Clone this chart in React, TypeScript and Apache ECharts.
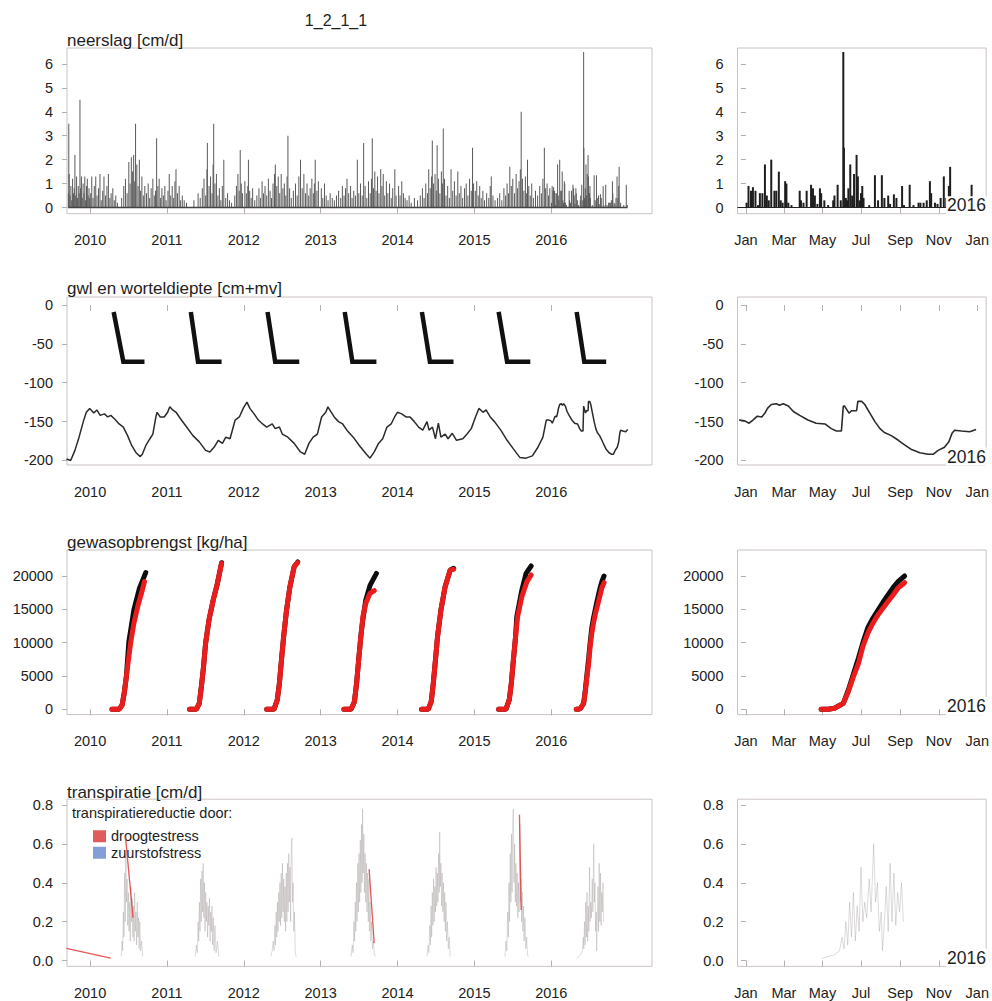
import React, { useEffect, useRef } from "react";
import * as echarts from "echarts";

// ---------- tick values ----------
const yearTicks = [2010, 2011, 2012, 2013, 2014, 2015, 2016];
const monthTickDays = [0, 60, 121, 182, 244, 305, 366];
const monthTickLabels = ["Jan", "Mar", "May", "Jul", "Sep", "Nov", "Jan"];
const rainTicks = [0, 1, 2, 3, 4, 5, 6];
const gwlTicks = [-200, -150, -100, -50, 0];
const yieldTicks = [0, 5000, 10000, 15000, 20000];
const transTicks = [0, 0.2, 0.4, 0.6, 0.8];

// ---------- neerslag (rain), [day of year, cm/d] ----------
const rain2009 = [[262,0.6],[264,3.5],[266,1.4],[270,0.5],[274,0.9],[278,0.3],[282,1.2],[286,0.6],[290,0.8],[293,2.2],[297,0.5],[301,1.3],[305,0.4],[309,0.9],[313,0.6],[317,4.5],[320,0.8],[324,1.3],[328,0.4],[332,1.0],[336,0.6],[340,1.3],[344,0.3],[348,0.9],[352,1.2],[356,0.5],[360,0.8],[363,0.4]];
const rain2010 = [[3,0.6],[8,1.3],[14,0.4],[20,0.9],[27,1.3],[33,0.5],[40,0.8],[47,1.4],[53,0.3],[60,0.7],[66,1.3],[73,0.5],[80,0.9],[87,1.4],[94,0.4],[100,0.6],[108,0.8],[115,0.3],[122,0.5],[130,0.2],[150,0.4],[160,0.9],[168,1.2],[176,0.6],[184,1.9],[190,1.0],[196,2.1],[202,1.5],[207,2.2],[212,1.1],[216,3.5],[222,1.8],[228,0.9],[234,2.0],[240,0.7],[246,1.3],[253,0.5],[260,0.9],[268,0.6],[276,1.0],[283,0.4],[290,0.8],[298,1.2],[305,0.5],[311,0.7],[316,2.9],[322,0.9],[328,1.2],[335,0.4],[341,0.8],[348,0.5],[355,0.9],[361,0.3]];
const rain2011 = [[5,0.7],[11,1.4],[18,0.5],[25,0.9],[32,0.4],[38,1.1],[43,1.6],[50,0.6],[58,0.9],[65,0.3],[73,0.5],[82,0.3],[93,0.2],[128,0.3],[148,0.6],[158,0.4],[168,0.8],[176,1.2],[184,0.5],[190,1.6],[192,2.7],[200,0.9],[207,1.3],[214,0.6],[219,1.8],[222,3.5],[228,1.0],[235,1.4],[242,0.5],[249,0.8],[256,0.3],[263,0.9],[270,2.0],[279,0.4],[288,0.6],[297,0.3],[307,0.2],[322,0.5],[330,0.9],[337,1.4],[343,0.7],[348,2.4],[353,1.0],[359,0.6]];
const rain2012 = [[5,1.1],[12,0.6],[19,0.9],[22,2.0],[28,0.7],[35,0.4],[42,0.8],[52,0.3],[62,0.5],[72,0.8],[79,0.4],[87,1.1],[94,0.6],[101,0.9],[109,0.5],[117,1.2],[125,0.7],[132,0.4],[139,1.0],[146,1.4],[150,1.8],[157,0.9],[164,1.3],[171,0.6],[178,1.4],[186,0.8],[193,1.0],[200,0.5],[206,1.3],[210,3.0],[218,0.8],[226,0.4],[236,0.7],[246,1.0],[254,0.5],[262,1.3],[270,2.0],[278,0.8],[286,1.4],[294,0.6],[301,1.0],[309,0.5],[316,0.8],[324,1.2],[331,0.6],[336,1.0],[340,2.0],[348,0.7],[355,1.1]];
const rain2013 = [[3,0.8],[10,0.4],[18,1.0],[26,0.5],[35,0.3],[45,0.6],[55,0.4],[65,0.3],[75,0.5],[85,0.7],[95,0.4],[103,0.9],[111,0.5],[118,0.8],[125,1.2],[133,0.6],[142,0.9],[149,0.4],[157,0.7],[165,0.5],[174,2.0],[181,0.6],[189,1.0],[197,0.5],[204,2.7],[211,0.9],[219,0.4],[227,1.1],[235,0.6],[241,1.2],[245,2.9],[251,0.8],[257,1.5],[263,0.7],[270,1.3],[277,0.6],[285,1.6],[291,0.9],[297,1.4],[304,0.5],[312,1.1],[319,0.6],[327,1.0],[335,0.4],[342,0.8],[352,1.6],[358,0.5]];
const rain2014 = [[5,0.9],[12,0.5],[20,1.1],[28,0.6],[36,0.4],[45,0.3],[55,0.5],[65,0.2],[80,0.4],[95,0.3],[108,0.5],[118,0.8],[126,0.4],[134,1.0],[142,0.6],[148,1.6],[155,0.8],[161,1.3],[165,2.8],[171,1.0],[178,1.4],[184,0.7],[188,2.6],[194,1.2],[201,0.6],[208,1.5],[213,1.0],[217,3.3],[223,1.2],[230,0.5],[238,0.9],[246,0.4],[254,1.6],[262,0.7],[270,1.1],[278,0.5],[286,1.5],[293,0.6],[301,0.9],[309,0.4],[318,0.8],[326,1.0],[334,0.5],[342,1.2],[350,0.7],[356,2.5],[361,1.0]];
const rain2015 = [[4,0.7],[11,1.1],[18,0.5],[25,0.9],[32,0.4],[40,0.7],[48,0.3],[58,0.6],[68,0.4],[75,0.9],[80,1.3],[88,0.5],[98,0.3],[110,0.4],[120,0.6],[130,0.3],[140,0.8],[148,0.5],[155,1.0],[162,0.6],[168,1.7],[175,0.9],[182,1.2],[190,0.6],[198,1.4],[205,0.8],[212,1.1],[218,1.6],[222,4.0],[228,1.2],[235,0.7],[242,1.3],[248,0.6],[252,2.0],[258,0.9],[265,0.5],[272,1.0],[280,0.4],[290,0.7],[300,0.5],[310,0.9],[318,0.6],[325,1.2],[332,2.5],[338,0.8],[345,1.0],[352,0.5],[358,0.8]];
const rain2016 = [[1,0.2],[4,0.9],[8,0.7],[11,0.85],[15,0.7],[19,0.1],[22,0.6],[26,0.6],[30,1.8],[33,0.5],[36,0.3],[40,2.0],[45,0.7],[48,0.7],[52,1.5],[55,0.3],[58,0.2],[62,1.1],[64,1.0],[67,0.2],[72,0.1],[85,0.7],[87,0.3],[91,0.2],[96,0.7],[103,0.95],[106,0.8],[109,0.5],[113,0.15],[117,0.8],[119,0.6],[124,0.3],[130,0.1],[138,0.3],[140,0.5],[145,0.95],[150,0.3],[154,6.5],[155,2.5],[158,0.4],[160,0.3],[162,0.8],[165,1.8],[168,0.5],[171,1.4],[175,2.2],[177,1.3],[180,0.3],[182,0.6],[184,0.9],[186,0.4],[195,0.1],[204,1.35],[209,0.3],[215,1.35],[219,0.4],[225,0.5],[228,0.15],[234,0.55],[238,0.4],[247,0.9],[250,0.1],[259,0.95],[265,0.1],[273,0.2],[276,0.2],[281,0.2],[286,0.3],[291,1.1],[293,0.6],[299,0.2],[303,0.15],[308,0.4],[313,1.3],[317,0.4],[321,0.9],[323,1.7],[330,0.2],[345,0.1],[357,0.95],[362,0.1]];
const rainYears = [2009, 2010, 2011, 2012, 2013, 2014, 2015, 2016];
const rainPeriod = [2009.715, 2016.99];

// ---------- grondwaterstand (gwl) ----------
const gwlLeft = [[2009.693,-198],[2009.748,-200],[2009.803,-187],[2009.857,-170],[2009.912,-150],[2009.951,-138],[2009.995,-133],[2010.049,-139],[2010.088,-135],[2010.132,-142],[2010.187,-140],[2010.230,-144],[2010.269,-142],[2010.324,-147],[2010.378,-153],[2010.433,-157],[2010.488,-168],[2010.543,-181],[2010.598,-190],[2010.653,-195],[2010.680,-192],[2010.724,-181],[2010.779,-172],[2010.817,-166],[2010.856,-144],[2010.872,-138],[2010.911,-144],[2010.965,-144],[2011.009,-138],[2011.037,-131],[2011.075,-135],[2011.119,-138],[2011.174,-146],[2011.256,-157],[2011.338,-168],[2011.421,-176],[2011.503,-187],[2011.558,-189],[2011.613,-183],[2011.668,-174],[2011.722,-178],[2011.766,-170],[2011.821,-172],[2011.887,-148],[2011.942,-144],[2011.997,-132],[2012.041,-125],[2012.079,-133],[2012.134,-140],[2012.189,-148],[2012.244,-153],[2012.298,-157],[2012.370,-153],[2012.408,-159],[2012.463,-157],[2012.501,-166],[2012.573,-170],[2012.655,-178],[2012.737,-189],[2012.792,-192],[2012.847,-178],[2012.902,-170],[2012.957,-166],[2013.012,-144],[2013.066,-138],[2013.094,-131],[2013.138,-138],[2013.176,-144],[2013.231,-150],[2013.286,-153],[2013.341,-161],[2013.423,-170],[2013.505,-181],[2013.587,-191],[2013.642,-197],[2013.697,-189],[2013.752,-178],[2013.807,-172],[2013.862,-157],[2013.917,-153],[2013.961,-144],[2013.999,-138],[2014.054,-140],[2014.109,-144],[2014.163,-144],[2014.218,-150],[2014.273,-157],[2014.328,-161],[2014.383,-150],[2014.410,-161],[2014.454,-157],[2014.493,-172],[2014.531,-152],[2014.564,-170],[2014.619,-166],[2014.657,-172],[2014.712,-165],[2014.767,-174],[2014.849,-172],[2014.904,-166],[2014.959,-159],[2015.014,-144],[2015.058,-133],[2015.112,-138],[2015.151,-135],[2015.206,-144],[2015.261,-150],[2015.343,-161],[2015.425,-174],[2015.507,-185],[2015.590,-196],[2015.672,-197],[2015.754,-194],[2015.826,-183],[2015.891,-170],[2015.935,-148]];
const gwl2016 = [[-11,-148],[-2,-149],[5,-152],[11,-148],[18,-143],[25,-144],[30,-139],[34,-133],[40,-128],[48,-127],[53,-129],[59,-127],[67,-130],[75,-137],[85,-142],[98,-148],[111,-152],[125,-153],[135,-159],[143,-162],[151,-162],[154,-130],[156,-130],[163,-139],[167,-136],[175,-136],[177,-124],[183,-124],[188,-128],[196,-139],[204,-150],[212,-159],[219,-164],[230,-168],[241,-174],[251,-180],[262,-186],[275,-190],[288,-192],[296,-192],[304,-187],[314,-183],[321,-176],[326,-165],[330,-161],[341,-162],[354,-163],[364,-160]];

// ---------- worteldiepte (root depth) ----------
const rootStart = [2010.307, 2011.311, 2012.309, 2013.313, 2014.317, 2015.315, 2016.330];
const rootFull = [2010.433, 2011.404, 2012.408, 2013.412, 2014.421, 2015.425, 2016.429];
const rootEnd = [2010.708, 2011.711, 2012.721, 2013.725, 2014.728, 2015.727, 2016.714];
const rootDepths = [-9, -73];

// ---------- gewasopbrengst (yield) ----------
const yieldRed = [
  [[2010.285,0],[2010.378,0],[2010.417,650],[2010.444,2400],[2010.472,4900],[2010.499,7400],[2010.527,9900],[2010.570,12900],[2010.625,15650],[2010.680,17900],[2010.708,19150]],
  [[2011.295,0],[2011.382,0],[2011.421,900],[2011.448,3400],[2011.476,6400],[2011.503,9900],[2011.547,13400],[2011.602,16400],[2011.657,18900],[2011.711,21900]],
  [[2012.298,0],[2012.392,0],[2012.435,1400],[2012.463,3900],[2012.490,7400],[2012.518,10900],[2012.556,14900],[2012.600,18400],[2012.655,21400],[2012.699,22000]],
  [[2013.302,0],[2013.395,0],[2013.439,1150],[2013.467,3900],[2013.494,7400],[2013.522,10900],[2013.549,13900],[2013.587,15900],[2013.642,17400],[2013.697,17800]],
  [[2014.312,0],[2014.399,0],[2014.438,1150],[2014.465,3900],[2014.493,7400],[2014.520,10900],[2014.564,14900],[2014.619,18400],[2014.685,20900],[2014.728,21000]],
  [[2015.315,0],[2015.409,0],[2015.453,1400],[2015.480,3900],[2015.507,7400],[2015.535,10900],[2015.562,13900],[2015.617,16900],[2015.683,19150],[2015.738,20150]],
];
const yieldBlack = [
  [[2010.285,0],[2010.378,0],[2010.417,650],[2010.444,2400],[2010.472,4900],[2010.505,10150],[2010.570,14900],[2010.642,18150],[2010.724,20500]],
  [[2011.295,0],[2011.382,0],[2011.421,900],[2011.448,3400],[2011.476,6400],[2011.503,9900],[2011.547,13400],[2011.602,16400],[2011.657,18900],[2011.711,22000]],
  [[2012.298,0],[2012.392,0],[2012.435,1400],[2012.463,3900],[2012.490,7400],[2012.518,10900],[2012.556,14900],[2012.600,18400],[2012.655,21400],[2012.702,22100]],
  [[2013.302,0],[2013.395,0],[2013.439,1150],[2013.467,3900],[2013.494,7400],[2013.522,10900],[2013.549,13500],[2013.587,16400],[2013.642,18600],[2013.725,20400]],
  [[2014.312,0],[2014.399,0],[2014.438,1150],[2014.465,3900],[2014.493,7400],[2014.520,10900],[2014.564,14900],[2014.619,18400],[2014.685,20900],[2014.730,21150]],
  [[2015.315,0],[2015.409,0],[2015.453,1400],[2015.480,3900],[2015.507,7400],[2015.535,10900],[2015.551,13900],[2015.617,17900],[2015.672,20400],[2015.738,21500]],
];
const yieldRed2016 = [[119,0],[130,0],[140,150],[154,900],[162,2650],[170,4900],[178,6900],[185,9450],[193,11450],[201,12950],[209,14200],[217,15200],[225,16200],[233,17200],[241,18250],[251,19000]];
const yieldBlack2016 = [[119,0],[130,0],[140,150],[154,900],[162,2900],[170,5300],[178,7700],[185,10000],[193,12300],[201,13700],[209,14900],[217,16100],[225,17200],[233,18300],[241,19200],[251,20000]];

// ---------- transpiratie, [day of year, cm/d] ----------
const tr2010 = [[148,0.02],[152,0.1],[155,0.05],[158,0.25],[161,0.12],[164,0.45],[167,0.2],[170,0.55],[173,0.3],[176,0.42],[179,0.18],[182,0.35],[185,0.15],[188,0.3],[191,0.1],[194,0.38],[197,0.2],[200,0.32],[203,0.12],[206,0.28],[209,0.1],[212,0.35],[215,0.15],[218,0.25],[221,0.08],[224,0.3],[227,0.12],[230,0.22],[233,0.06],[236,0.2],[240,0.05],[245,0.1],[250,0.02]];
const tr2011 = [[134,0.02],[140,0.08],[144,0.04],[148,0.2],[151,0.1],[154,0.3],[157,0.15],[160,0.42],[163,0.2],[166,0.46],[169,0.25],[172,0.5],[175,0.22],[178,0.4],[181,0.15],[184,0.35],[187,0.2],[190,0.3],[193,0.12],[196,0.28],[199,0.18],[202,0.32],[205,0.1],[208,0.25],[211,0.15],[214,0.28],[217,0.08],[220,0.22],[224,0.05],[228,0.18],[233,0.04],[240,0.1],[246,0.02]];
const tr2012 = [[129,0.02],[135,0.05],[140,0.1],[144,0.05],[148,0.18],[151,0.08],[154,0.25],[157,0.12],[160,0.3],[163,0.15],[166,0.35],[169,0.2],[172,0.4],[175,0.18],[178,0.45],[181,0.22],[184,0.5],[187,0.25],[190,0.42],[193,0.2],[196,0.38],[199,0.15],[202,0.45],[205,0.2],[208,0.5],[211,0.25],[214,0.55],[217,0.3],[220,0.48],[223,0.2],[226,0.58],[229,0.63],[232,0.3],[235,0.4],[238,0.15],[241,0.25],[245,0.05],[249,0.02]];
const tr2013 = [[144,0.02],[150,0.08],[154,0.04],[158,0.2],[161,0.1],[164,0.3],[167,0.15],[170,0.4],[173,0.2],[176,0.5],[179,0.25],[182,0.55],[185,0.3],[188,0.62],[191,0.35],[194,0.7],[197,0.4],[199,0.78],[202,0.45],[205,0.65],[208,0.35],[211,0.55],[214,0.3],[217,0.5],[220,0.25],[223,0.45],[226,0.2],[229,0.42],[232,0.15],[235,0.3],[238,0.1],[242,0.2],[246,0.06],[250,0.1],[255,0.03],[262,0.02]];
const tr2014 = [[140,0.02],[145,0.08],[149,0.04],[153,0.18],[156,0.08],[159,0.28],[162,0.12],[165,0.35],[168,0.18],[171,0.42],[174,0.2],[177,0.38],[180,0.25],[183,0.48],[186,0.28],[189,0.45],[192,0.3],[195,0.55],[198,0.35],[200,0.66],[203,0.38],[206,0.5],[209,0.28],[212,0.45],[215,0.25],[218,0.4],[221,0.2],[224,0.35],[227,0.15],[230,0.3],[233,0.1],[237,0.2],[241,0.06],[245,0.12],[250,0.02]];
const tr2015 = [[145,0.02],[150,0.1],[154,0.05],[158,0.25],[161,0.12],[164,0.4],[167,0.2],[170,0.55],[173,0.3],[176,0.65],[179,0.35],[182,0.72],[185,0.78],[188,0.4],[191,0.6],[194,0.3],[197,0.5],[200,0.28],[203,0.45],[206,0.22],[209,0.4],[212,0.25],[215,0.7],[218,0.3],[221,0.42],[224,0.2],[227,0.35],[230,0.15],[233,0.28],[236,0.1],[240,0.22],[244,0.06],[248,0.12],[252,0.03],[256,0.02]];
const tr2016 = [[120,0.01],[140,0.03],[148,0.05],[152,0.12],[155,0.06],[158,0.2],[161,0.08],[164,0.3],[167,0.12],[170,0.35],[173,0.1],[176,0.28],[179,0.15],[182,0.48],[185,0.2],[188,0.3],[191,0.22],[195,0.42],[198,0.25],[202,0.6],[205,0.3],[208,0.4],[211,0.15],[214,0.25],[216,0.05],[219,0.2],[222,0.38],[225,0.15],[228,0.5],[231,0.2],[234,0.45],[237,0.18],[240,0.35],[243,0.25],[246,0.4],[249,0.2]];
const trYears = [2010, 2011, 2012, 2013, 2014, 2015, 2016];
// droogtestress (drought reduction) segments, decimal years
const droogte = [
  [[2009.693,0.063],[2010.269,0.012]],
  [[2010.460,0.64],[2010.559,0.22]],
  [[2013.630,0.47],[2013.696,0.09]],
  [[2015.586,0.75],[2015.608,0.26]],
];

// ---------- helpers ----------
const FONT = "'Liberation Sans', Arial, Helvetica, sans-serif";
const dec = (year: number, doy: number) => year + doy / (year % 4 === 0 ? 366 : 365);
const toDec = (year: number, arr: number[][]) => arr.map(([d, v]) => [dec(year, d), v]);

function buildOption() {
  const LEFT = 67, LW = 585, RLEFT = 737.5, RW = 249.5;
  const rows = [
    { top: 48, height: 165.7, min: -0.259, max: 6.668, ticks: rainTicks, fmt: (v: number) => String(v) },
    { top: 297, height: 168, min: -205.79, max: 10.29, ticks: gwlTicks, fmt: (v: number) => String(v) },
    { top: 550, height: 164.6, min: -795, max: 23901, ticks: yieldTicks, fmt: (v: number) => String(v) },
    { top: 799.2, height: 167.1, min: -0.0298, max: 0.8298, ticks: transTicks, fmt: (v: number) => v.toFixed(1) },
  ];
  const grid: any[] = [];
  const xAxis: any[] = [];
  const yAxis: any[] = [];
  const labelStyle = { fontSize: 14.5, color: "#222", fontFamily: FONT };
  const tickStyle = { color: "#b5b0b0", width: 1 };
  rows.forEach((r, i) => {
    grid.push({ left: LEFT, width: LW, top: r.top, height: r.height, show: true, borderColor: "#cbc2c2", borderWidth: 1, backgroundColor: "transparent" });
    grid.push({ left: RLEFT, width: RW, top: r.top, height: r.height, show: true, borderColor: "#cbc2c2", borderWidth: 1, backgroundColor: "transparent" });
    xAxis.push({
      gridIndex: 2 * i, type: "value", min: 2009.70, max: 2017.31,
      splitLine: { show: false }, axisLine: { show: false },
      axisTick: { show: true, length: 6, customValues: yearTicks, lineStyle: tickStyle },
      axisLabel: { ...labelStyle, margin: 19, customValues: yearTicks, formatter: (v: number) => String(Math.round(v)) },
    });
    xAxis.push({
      gridIndex: 2 * i + 1, type: "value", min: -13.4, max: 380,
      splitLine: { show: false }, axisLine: { show: false },
      axisTick: { show: true, length: 6, customValues: monthTickDays, lineStyle: tickStyle },
      axisLabel: {
        ...labelStyle, margin: 19, customValues: monthTickDays,
        formatter: (v: number) => {
          let best = 0;
          monthTickDays.forEach((d, k) => { if (Math.abs(d - v) < Math.abs(monthTickDays[best] - v)) best = k; });
          return monthTickLabels[best];
        },
      },
    });
    for (let k = 0; k < 2; k++) {
      yAxis.push({
        gridIndex: 2 * i + k, type: "value", min: r.min, max: r.max,
        splitLine: { show: false }, axisLine: { show: false },
        axisTick: { show: true, length: 5, customValues: r.ticks, lineStyle: tickStyle },
        axisLabel: { ...labelStyle, margin: 14, customValues: r.ticks, formatter: r.fmt },
      });
    }
  });

  const series: any[] = [];
  // row 1: rain
  const rainLeft: number[][] = [];
  [rain2009, rain2010, rain2011, rain2012, rain2013, rain2014, rain2015, rain2016].forEach((arr, k) => {
    rainLeft.push(...toDec(rainYears[k], arr));
  });
  series.push({ type: "line", xAxisIndex: 0, yAxisIndex: 0, data: rainPeriod.map((x) => [x, 0]), symbol: "none", lineStyle: { color: "#444", width: 1.5 }, silent: true });
  series.push({ type: "bar", xAxisIndex: 0, yAxisIndex: 0, data: rainLeft, barWidth: 1, itemStyle: { color: "#5a5a5a" }, silent: true });
  series.push({
    type: "bar", xAxisIndex: 1, yAxisIndex: 1, data: rain2016, barWidth: 2, itemStyle: { color: "#1e1e1e" }, silent: true,
    markLine: { symbol: "none", silent: true, label: { show: false }, lineStyle: { color: "#222", width: 1, type: "solid" }, data: [{ yAxis: 0 }] },
  });

  // row 2: gwl + root depth
  const gwlAll = [...gwlLeft, ...toDec(2016, gwl2016)];
  series.push({ type: "line", xAxisIndex: 2, yAxisIndex: 2, data: gwlAll, symbol: "none", lineStyle: { color: "#2b2b2b", width: 1.5 }, silent: true });
  rootStart.forEach((s, k) => {
    series.push({
      type: "line", xAxisIndex: 2, yAxisIndex: 2, symbol: "none", silent: true,
      data: [[s, rootDepths[0]], [rootFull[k], rootDepths[1]], [rootEnd[k], rootDepths[1]]],
      lineStyle: { color: "#111", width: 4.5, join: "miter" },
    });
  });
  series.push({ type: "line", xAxisIndex: 3, yAxisIndex: 3, data: gwl2016, symbol: "none", lineStyle: { color: "#2b2b2b", width: 1.6 }, silent: true });

  // row 3: yield
  const blacks = [...yieldBlack, toDec(2016, yieldBlack2016)];
  const reds = [...yieldRed, toDec(2016, yieldRed2016)];
  blacks.forEach((d) => series.push({ type: "line", xAxisIndex: 4, yAxisIndex: 4, data: d, symbol: "none", z: 2, lineStyle: { color: "#0d0d0d", width: 5, cap: "round" }, silent: true }));
  reds.forEach((d) => series.push({ type: "line", xAxisIndex: 4, yAxisIndex: 4, data: d, symbol: "none", z: 3, lineStyle: { color: "#ea1c1c", width: 5, cap: "round" }, silent: true }));
  series.push({ type: "line", xAxisIndex: 5, yAxisIndex: 5, data: yieldBlack2016, symbol: "none", z: 2, lineStyle: { color: "#0d0d0d", width: 5, cap: "round" }, silent: true });
  series.push({ type: "line", xAxisIndex: 5, yAxisIndex: 5, data: yieldRed2016, symbol: "none", z: 3, lineStyle: { color: "#ea1c1c", width: 5, cap: "round" }, silent: true });

  // row 4: transpiration
  const trColor = "rgba(150,140,140,0.32)";
  [tr2010, tr2011, tr2012, tr2013, tr2014, tr2015, tr2016].forEach((arr, k) => {
    series.push({ type: "line", xAxisIndex: 6, yAxisIndex: 6, data: toDec(trYears[k], arr), symbol: "none", lineStyle: { color: trColor, width: 1 }, silent: true });
  });
  droogte.forEach((d) => series.push({ name: "droogtestress", type: "line", xAxisIndex: 6, yAxisIndex: 6, data: d, symbol: "none", z: 4, itemStyle: { color: "#e05c5c" }, lineStyle: { color: "#e23a3a", width: 1.3, opacity: 0.85 }, silent: true }));
  series.push({ name: "zuurstofstress", type: "line", xAxisIndex: 6, yAxisIndex: 6, data: [], symbol: "none", itemStyle: { color: "#849fd8" }, lineStyle: { color: "#849fd8" }, silent: true });
  series.push({ type: "line", xAxisIndex: 7, yAxisIndex: 7, data: tr2016, symbol: "none", lineStyle: { color: trColor, width: 1 }, silent: true });

  const txt = (text: string, x: number, y: number, size: number, align = "left", bg?: string) => ({
    type: "text", x, y, silent: true, z: 100,
    style: { text, fontSize: size, fontFamily: FONT, fill: "#1e1e1e", textAlign: align, textVerticalAlign: "middle", align, verticalAlign: "middle", backgroundColor: bg, padding: bg ? [0, 1] : 0 },
  });
  const bottoms = rows.map((r) => r.top + r.height);
  const graphic = [
    txt("1_2_1_1", 336, 20, 16, "center"),
    txt("neerslag [cm/d]", 67, 40, 17),
    txt("gwl en worteldiepte [cm+mv]", 67, 288, 17),
    txt("gewasopbrengst [kg/ha]", 67, 542, 17),
    txt("transpiratie [cm/d]", 67, 792, 17),
    txt("transpiratiereductie door:", 72, 813, 14.5),
    ...bottoms.map((b) => txt("2016", 987, b - 8.5, 17.5, "right", "#fff")),
  ];

  return {
    animation: false,
    backgroundColor: "#fff",
    textStyle: { fontFamily: FONT },
    grid, xAxis, yAxis, series,
    legend: {
      show: true, orient: "vertical", left: 93, top: 828, padding: 0,
      itemWidth: 13, itemHeight: 12, itemGap: 0, icon: "rect", selectedMode: false,
      textStyle: { fontSize: 14.5, fontFamily: FONT, color: "#222", lineHeight: 16.5 },
      data: [
        { name: "droogtestress", itemStyle: { color: "#e05c5c" } },
        { name: "zuurstofstress", itemStyle: { color: "#849fd8" } },
      ],
    },
    graphic: { elements: graphic },
  };
}

export default function App() {
  const ref = useRef<HTMLDivElement>(null);
  useEffect(() => {
    if (!ref.current) return;
    const chart = echarts.init(ref.current, null, { renderer: "svg" });
    chart.setOption(buildOption() as any);
    return () => chart.dispose();
  }, []);
  return <div ref={ref} style={{ position: "absolute", left: 0, top: 0, width: 992, height: 1001, background: "#fff" }} />;
}
